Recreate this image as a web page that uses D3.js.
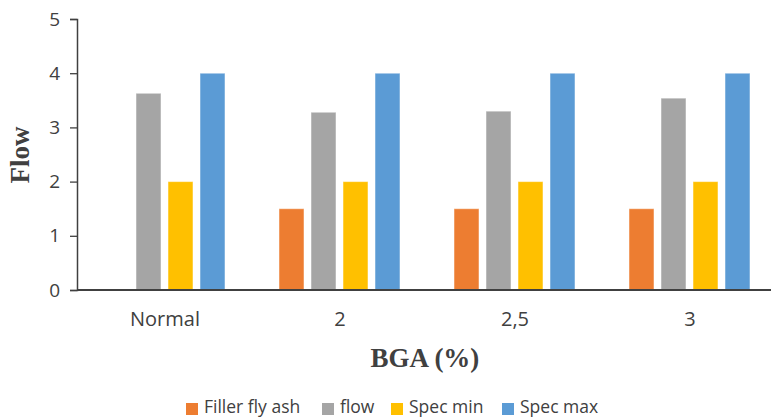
<!DOCTYPE html>
<html><head><meta charset="utf-8">
<script src="https://cdn.jsdelivr.net/npm/d3@7"></script>
<style>body{margin:0;background:#fff}svg{display:block}</style>
</head><body>
<script>
const categories = ["Normal", "2", "2,5", "3"];
const seriesNames = ["Filler fly ash", "flow", "Spec min", "Spec max"];
const fillerFlyAsh = [null, 1.5, 1.5, 1.5];
const flow = [3.63, 3.28, 3.30, 3.54];
const specMin = [2, 2, 2, 2];
const specMax = [4, 4, 4, 4];
const yTicks = [0, 1, 2, 3, 4, 5];
const colors = ["#ED7D31", "#A5A5A5", "#FFC000", "#5B9BD5"];
const seriesValues = [fillerFlyAsh, flow, specMin, specMax];

const W = 771, H = 419;
const svg = d3.select("body").append("svg").attr("width", W).attr("height", H);

const x0 = d3.scaleBand().domain(categories).range([77.5, 777.5]).padding(0);
const x1 = d3.scaleBand().domain(seriesNames).range([26.5, 147.5]).paddingInner(7/32).paddingOuter(0);
const y = d3.scaleLinear().domain([0, 5]).range([290, 19]);

const font = "'Open Sans', sans-serif";

// y axis
const yAxis = svg.append("g").attr("transform", "translate(77,0)")
  .call(d3.axisLeft(y).tickValues(yTicks).tickSize(7).tickPadding(10).tickFormat(d3.format("d")));
yAxis.select(".domain").attr("stroke", "#404040").attr("stroke-width", 1.5);
yAxis.selectAll(".tick line").attr("stroke", "#404040").attr("stroke-width", 1.3);
yAxis.selectAll("text").attr("font-family", font).attr("font-size", 19).attr("fill", "#404040");

// bars
categories.forEach((c, ci) => {
  const g = svg.append("g").attr("transform", `translate(${x0(c)},0)`);
  seriesNames.forEach((s, si) => {
    const v = seriesValues[si][ci];
    if (v == null) return;
    g.append("rect")
      .attr("x", x1(s)).attr("width", x1.bandwidth())
      .attr("y", y(v)).attr("height", y(0) - y(v))
      .attr("fill", colors[si])
      .attr("stroke", "rgba(255,255,255,0.5)").attr("stroke-width", 1);
  });
});

// x axis
const xAxis = svg.append("g").attr("transform", "translate(0,290)")
  .call(d3.axisBottom(x0).tickSize(0).tickPadding(22));
xAxis.select(".domain").attr("stroke", "#404040").attr("stroke-width", 2)
  .attr("d", "M77,0H771");
xAxis.selectAll("text").attr("font-family", font).attr("font-size", 20).attr("fill", "#404040");

// axis titles
svg.append("text").attr("x", 425).attr("y", 367).attr("text-anchor", "middle")
  .attr("font-family", "'Liberation Serif', 'Times New Roman', serif").attr("font-weight", "bold")
  .attr("font-size", 27).attr("fill", "#404040").text("BGA (%)");
svg.append("text").attr("transform", "translate(29,155) rotate(-90)").attr("text-anchor", "middle")
  .attr("font-family", "'Liberation Serif', 'Times New Roman', serif").attr("font-weight", "bold")
  .attr("font-size", 27).attr("fill", "#404040").text("Flow");

// legend
const legendX = [186, 322, 391, 502];
const lg = svg.append("g");
seriesNames.forEach((s, i) => {
  lg.append("rect").attr("x", legendX[i]).attr("y", 403).attr("width", 12).attr("height", 12).attr("fill", colors[i]);
  lg.append("text").attr("x", legendX[i] + 18).attr("y", 413)
    .attr("font-family", font).attr("font-size", 17.5).attr("fill", "#404040").text(s);
});
</script>
</body></html>
